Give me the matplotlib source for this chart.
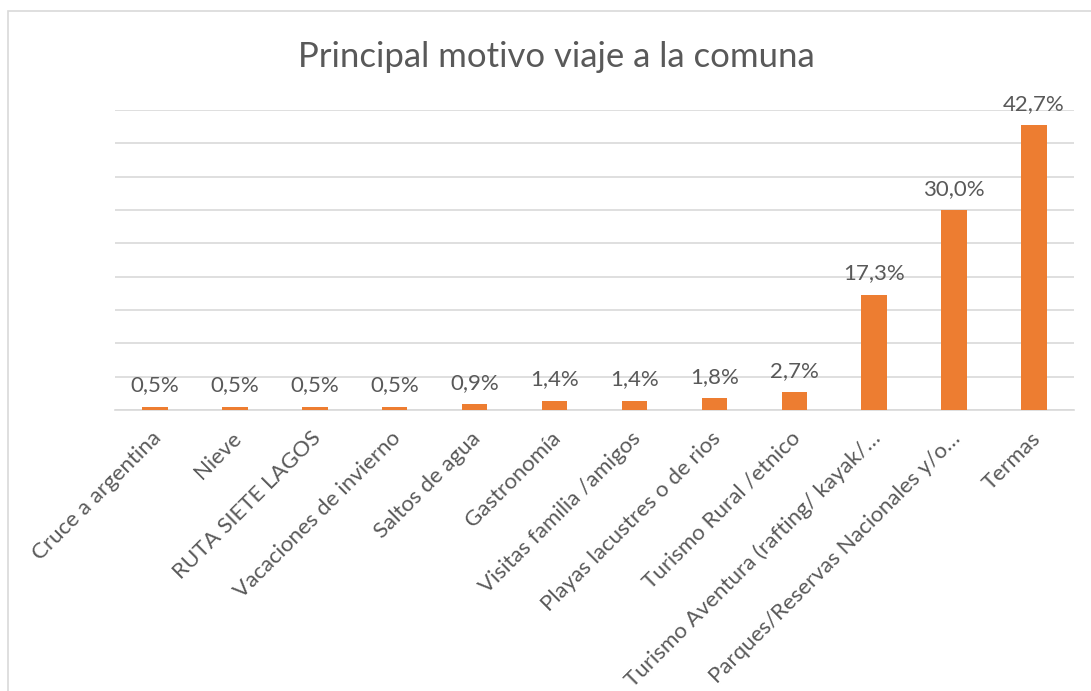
import matplotlib.pyplot as plt
import matplotlib.transforms as mtransforms
from matplotlib.patches import Rectangle

categories = [
    "Cruce a argentina",
    "Nieve",
    "RUTA SIETE LAGOS",
    "Vacaciones de invierno",
    "Saltos de agua",
    "Gastronomía",
    "Visitas familia /amigos",
    "Playas lacustres o de rios",
    "Turismo Rural /etnico",
    "Turismo Aventura (rafting/ kayak/…",
    "Parques/Reservas Nacionales y/o…",
    "Termas",
]
values = [0.5, 0.5, 0.5, 0.5, 0.9, 1.4, 1.4, 1.8, 2.7, 17.3, 30.0, 42.7]
title = "Principal motivo viaje a la comuna"

bar_color = "#ED7D31"
text_color = "#595959"
grid_color = "#D9D9D9"

plt.rcParams["font.family"] = ["Lato", "DejaVu Sans"]

fig = plt.figure(figsize=(10.91, 6.91), dpi=100)
ax = fig.add_axes([115 / 1091, 1 - 410 / 691, (1074 - 115) / 1091, 300 / 691])

x = range(len(categories))
bars = ax.bar(x, values, width=0.32, color=bar_color, zorder=3)

for b, v in zip(bars, values):
    ax.text(b.get_x() + b.get_width() / 2, v + 1.7, ("%.1f%%" % v).replace(".", ","),
            ha="center", va="bottom", fontsize=16, color=text_color)

ax.set_xlim(-0.5, len(categories) - 0.5)
ax.set_ylim(0, 45)
ax.set_yticks(range(0, 46, 5))
ax.yaxis.grid(True, color=grid_color, linewidth=1.2)
ax.tick_params(axis="y", left=False, labelleft=False)
ax.tick_params(axis="x", length=0, pad=13)
ax.set_xticks(list(x))
ax.set_xticklabels(categories, rotation=45, ha="right", rotation_mode="anchor",
                   fontsize=16, color=text_color)
shift = mtransforms.ScaledTranslation(-4 / 100, 0, fig.dpi_scale_trans)
for lab in ax.get_xticklabels():
    lab.set_transform(lab.get_transform() + shift)
for s in ["top", "right", "left"]:
    ax.spines[s].set_visible(False)
ax.spines["bottom"].set_color(grid_color)
ax.spines["bottom"].set_linewidth(1.2)

fig.text(556 / 1091, 1 - 57 / 691, title, ha="center", va="center",
         fontsize=25, color=text_color)

fig.patches.append(Rectangle((8 / 1091, -0.1), 1.2, 1 - 11 / 691 + 0.1,
                             transform=fig.transFigure, fill=False,
                             edgecolor=grid_color, linewidth=1.2))

fig.savefig("out.png", dpi=100)
